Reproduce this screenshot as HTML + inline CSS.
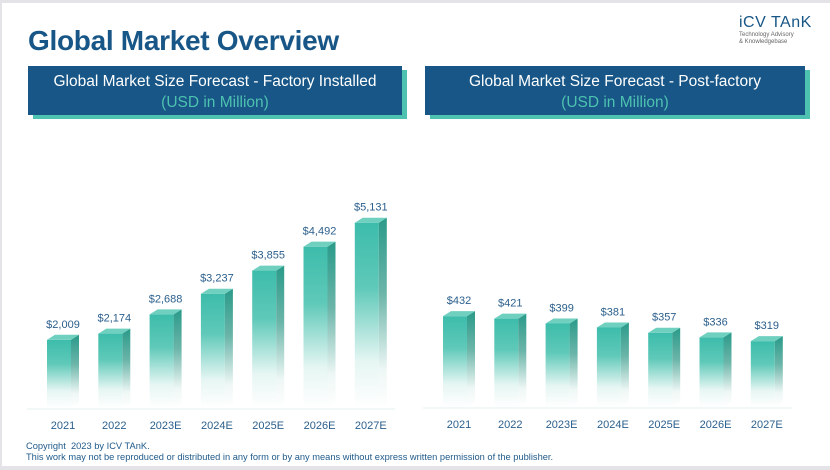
<!DOCTYPE html>
<html><head><meta charset="utf-8"><style>
body{margin:0;background:#fff;}
#wrap{position:relative;width:830px;height:470px;overflow:hidden;background:#fff;font-family:"Liberation Sans",sans-serif;}
.hbox{position:absolute;background:#175686;color:#fff;text-align:center;font-size:15.5px;line-height:21px;box-shadow:5px 4px 0 #4ec2b0;}
.hbox .sub{color:#4ec2b0;}
.copy{position:absolute;left:26px;font-size:9.3px;color:#1f5a8a;}
</style></head><body>
<div id="wrap">
<div style="position:absolute;left:0;top:0;width:830px;height:3px;background:#e4e4e8"></div>
<div style="position:absolute;left:0;top:0;width:2px;height:470px;background:#e4e4e8"></div>
<div style="position:absolute;left:0;top:466px;width:830px;height:4px;background:#e4e4e8"></div>
<div style="position:absolute;left:28px;top:25px;font-size:28px;font-weight:bold;color:#175686;letter-spacing:-0.3px">Global Market Overview</div>
<div style="position:absolute;left:739px;top:14px;color:#175686;font-size:16px;letter-spacing:0.5px">iCV TAnK</div>
<div style="position:absolute;left:739px;top:32px;color:#666;font-size:6px;line-height:7px">Technology Advisory<br>&amp; Knowledgebase</div>
<div class="hbox" style="left:28px;top:66px;width:374px;height:49px;padding-top:5px;box-sizing:border-box">Global Market Size Forecast - Factory Installed<br><span class="sub">(USD in Million)</span></div>
<div class="hbox" style="left:425px;top:66px;width:380px;height:49px;padding-top:5px;box-sizing:border-box">Global Market Size Forecast - Post-factory<br><span class="sub">(USD in Million)</span></div>
<svg id="chart" width="830" height="470" style="position:absolute;left:0;top:0">
<defs>
<linearGradient id="gf" x1="0" y1="0" x2="0" y2="1"><stop offset="0" stop-color="#3dbcab"/><stop offset="0.35" stop-color="#5fc9b9"/><stop offset="0.75" stop-color="#e6f6f3"/><stop offset="1" stop-color="#ffffff"/></linearGradient>
<linearGradient id="gs" x1="0" y1="0" x2="0" y2="1"><stop offset="0" stop-color="#2a9a89"/><stop offset="0.4" stop-color="#6bb5a9"/><stop offset="0.8" stop-color="#eef7f5"/><stop offset="1" stop-color="#ffffff"/></linearGradient>
</defs>
</svg>
<div class="copy" style="top:441px">Copyright&nbsp; 2023 by ICV TAnK.</div>
<div class="copy" style="top:452px">This work may not be reproduced or distributed in any form or by any means without express written permission of the publisher.</div>
</div>
<script>
const categories = ["2021","2022","2023E","2024E","2025E","2026E","2027E"];
const factoryValues = [2009,2174,2688,3237,3855,4492,5131];
const postValues = [432,421,399,381,357,336,319];
const factoryLabels = ["$2,009","$2,174","$2,688","$3,237","$3,855","$4,492","$5,131"];
const postLabels = ["$432","$421","$399","$381","$357","$336","$319"];
const svg = document.getElementById('chart');
const NS = 'http://www.w3.org/2000/svg';
function mk(tag, attrs){const e=document.createElementNS(NS,tag);for(const k in attrs)e.setAttribute(k,attrs[k]);svg.appendChild(e);return e;}
function drawChart(prefix, x0, axisX1, baseline, vals, labels, yScale){
  const line = mk('line',{x1:x0-20,x2:axisX1,y1:baseline+1,y2:baseline+1,stroke:'#e3f1ef','stroke-width':1});
  
  
  const step = 51.3, w = 24, d = 8, r = 5;
  vals.forEach((v,i)=>{
    const x = x0 + i*step;
    const top = baseline - yScale(v);
    const g = mk('g',{});
    
    
    const f = document.createElementNS(NS,'rect');
    f.setAttribute('x',x);f.setAttribute('y',top);f.setAttribute('width',w);f.setAttribute('height',baseline-top);f.setAttribute('fill','url(#gf)');
    g.appendChild(f);
    const s = document.createElementNS(NS,'polygon');
    s.setAttribute('points',`${x+w},${top} ${x+w+d},${top-r} ${x+w+d},${baseline-r} ${x+w},${baseline}`);
    s.setAttribute('fill','url(#gs)');
    g.appendChild(s);
    const t = document.createElementNS(NS,'polygon');
    t.setAttribute('points',`${x},${top} ${x+d},${top-r} ${x+w+d},${top-r} ${x+w},${top}`);
    t.setAttribute('fill','#6fd0c0');
    g.appendChild(t);
    const lb = mk('text',{x:x+w/2+4,y:top-12,'text-anchor':'middle','font-size':'11',fill:'#2b5f8c','font-family':'Liberation Sans, sans-serif'});
    lb.textContent = labels[i];
    
    
    const cl = mk('text',{x:x+w/2+4,y:baseline+21,'text-anchor':'middle','font-size':'11',fill:'#2b5f8c','font-family':'Liberation Sans, sans-serif'});
    cl.textContent = categories[i];
    
    
  });
}
drawChart('factory', 47, 395, 408, factoryValues, factoryLabels, v=>(v-190)*0.0375);
drawChart('post', 443, 792, 407, postValues, postLabels, v=>(v-21)*0.221);
</script>
</body></html>
